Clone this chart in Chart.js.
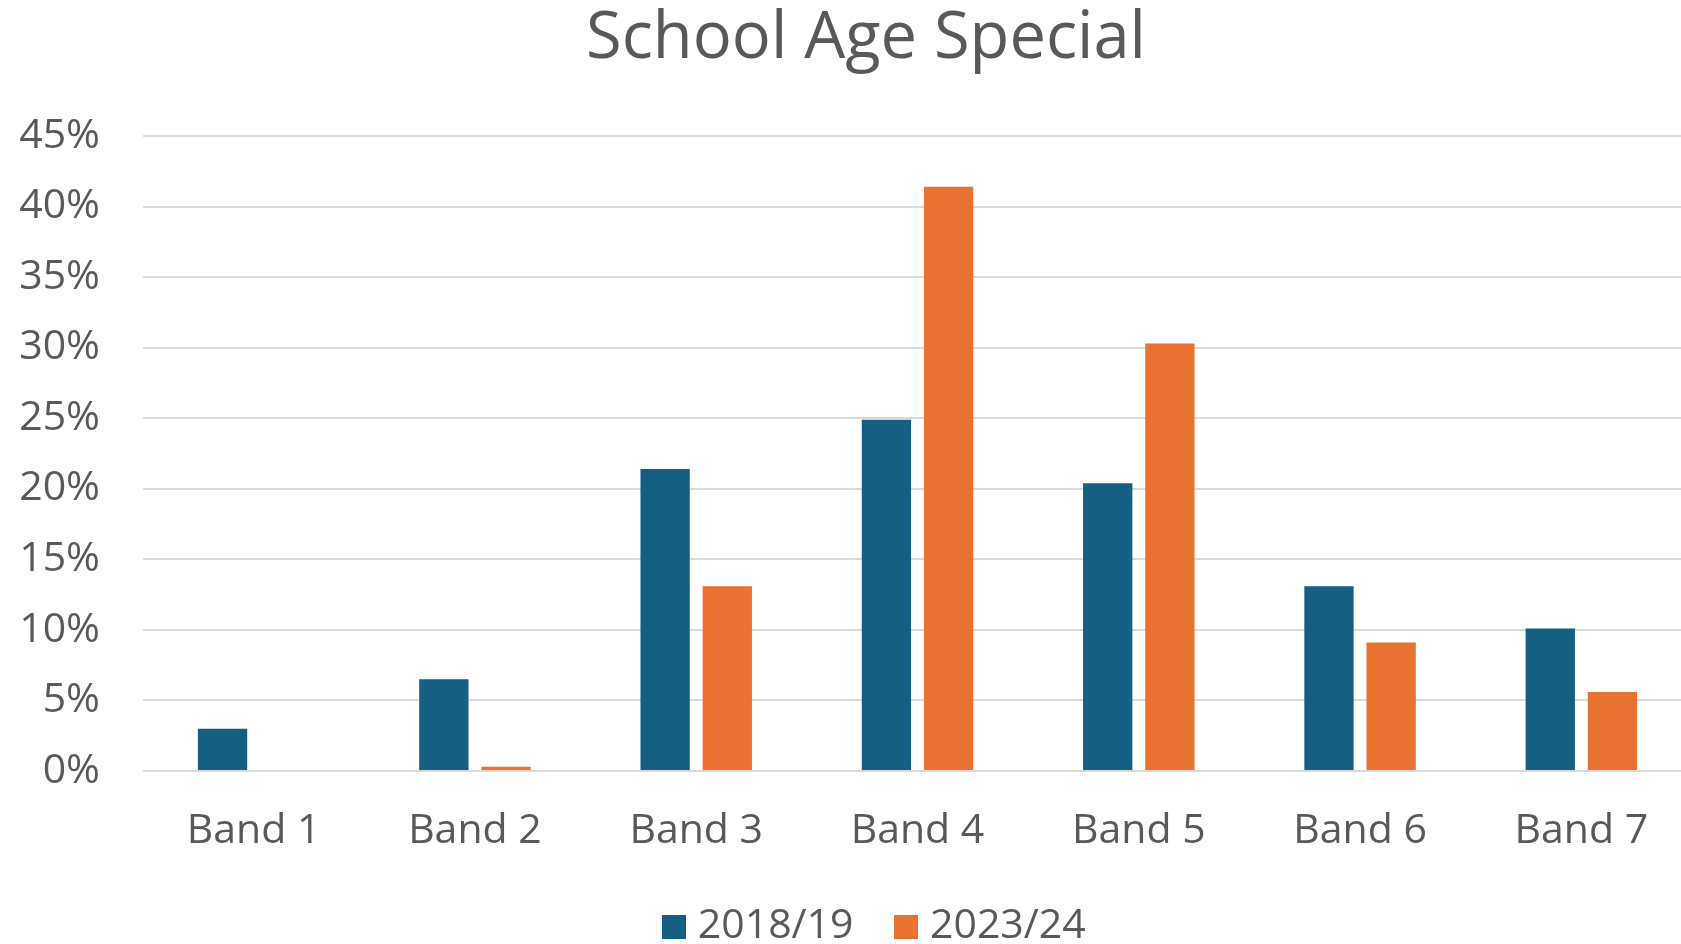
<!DOCTYPE html>
<html>
<head>
<meta charset="utf-8">
<title>School Age Special</title>
<script src="https://cdn.jsdelivr.net/npm/chart.js@4.4.1/dist/chart.umd.min.js"></script>
<style>
  html, body { margin: 0; padding: 0; background: #ffffff; width: 1681px; height: 944px; overflow: hidden; }
  #wrap { position: relative; width: 1700px; height: 957px; }
</style>
</head>
<body>
<div id="wrap"><canvas id="chart"></canvas></div>
<script>
// Share of pupils per band (percent)
const categories = ['Band 1', 'Band 2', 'Band 3', 'Band 4', 'Band 5', 'Band 6', 'Band 7'];
const seriesNames = ['2018/19', '2023/24'];
const values2018 = [3.0, 6.5, 21.4, 24.9, 20.4, 13.1, 10.1];
const values2023 = [0.0, 0.3, 13.1, 41.4, 30.3, 9.1, 5.6];
const yTickLabels = ['0%', '5%', '10%', '15%', '20%', '25%', '30%', '35%', '40%', '45%'];
const seriesColors = ['#156082', '#E97132'];

const textColor = '#595959';
const gridColor = '#d9d9d9';
Chart.defaults.font.family = "'Open Sans', 'Noto Sans', sans-serif";

// Square legend swatches, drawn as small canvases so the gap to the text stays tight
function makeSwatch(color) {
  const c = document.createElement('canvas');
  c.width = 24; c.height = 24;
  const g = c.getContext('2d');
  g.fillStyle = color;
  g.fillRect(0, 0, 24, 24);
  return c;
}
const legendSwatches = seriesColors.map(makeSwatch);

// Let the y tick labels use the space left of the axis box without being clipped,
// and nudge the legend row slightly to the right
const layoutTweaks = {
  id: 'layoutTweaks',
  afterLayout(chart) {
    chart.scales.y.left = 0;
    chart.legend.left += 12;
    chart.legend.right += 12;
  }
};

new Chart(document.getElementById('chart'), {
  type: 'bar',
  data: {
    labels: categories,
    datasets: [
      { label: seriesNames[0], data: values2018, backgroundColor: seriesColors[0] },
      { label: seriesNames[1], data: values2023, backgroundColor: seriesColors[1] }
    ]
  },
  plugins: [layoutTweaks],
  options: {
    responsive: true,
    maintainAspectRatio: false,
    animation: false,
    devicePixelRatio: 1,
    categoryPercentage: 0.562,
    barPercentage: 0.793,
    layout: { padding: { left: 40, right: 8, top: 0, bottom: 0 } },
    scales: {
      x: {
        grid: { display: false },
        border: { display: false },
        ticks: { color: textColor, font: { size: 41 }, padding: 28 },
        afterFit: (s) => { s.height = 86; }
      },
      y: {
        min: 0,
        max: 45,
        ticks: {
          stepSize: 5,
          color: textColor,
          font: { size: 41 },
          padding: 43,
          callback: (v, i) => yTickLabels[i]
        },
        grid: { color: gridColor, lineWidth: 2, drawTicks: false },
        border: { display: false },
        afterFit: (s) => { s.width = 103; }
      }
    },
    plugins: {
      title: {
        display: true,
        text: 'School Age Special',
        color: textColor,
        font: { size: 65, weight: 'normal' },
        padding: { top: 0, bottom: 58 }
      },
      legend: {
        position: 'bottom',
        labels: {
          color: textColor,
          font: { size: 41 },
          usePointStyle: true,
          pointStyleWidth: 7,
          boxHeight: 24,
          padding: 49,
          generateLabels: (chart) =>
            Chart.defaults.plugins.legend.labels.generateLabels(chart)
              .map((item, i) => Object.assign(item, { pointStyle: legendSwatches[i] }))
        }
      },
      tooltip: { enabled: false }
    }
  }
});
</script>
</body>
</html>
